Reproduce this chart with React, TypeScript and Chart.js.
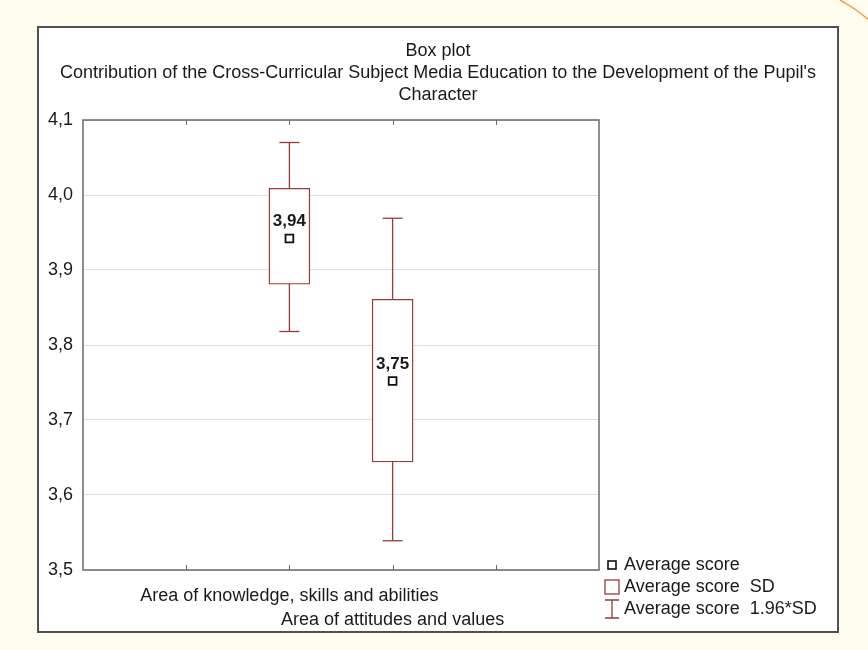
import React, { useEffect, useRef } from "react";
import { Chart, registerables } from "chart.js";

Chart.register(...registerables);

// ---- data ----
const titleLines = [
  "Box plot",
  "Contribution of the Cross-Curricular Subject Media Education to the Development of the Pupil's",
  "Character",
];
const categories = ["Area of knowledge, skills and abilities", "Area of attitudes and values"];
const categoryPositions = [2, 3];
const means = [3.942, 3.752];
const sdLow = [3.881, 3.644];
const sdHigh = [4.009, 3.861];
const ciLow = [3.818, 3.539];
const ciHigh = [4.07, 3.969];
const legendLabels = ["Average score", "Average score  SD", "Average score  1.96*SD"];
const yMin = 3.5;
const yMax = 4.1;
const yStep = 0.1;
const xMin = 0;
const xMax = 5;

const FONT = "'Liberation Sans', Arial, sans-serif";
const FS = 18;
const RED = "#983a3a";
const fmt = (v: number, d: number) => v.toFixed(d).replace(".", ",");

const decorPlugin = {
  id: "decor",
  beforeDraw(chart: any) {
    const { ctx, width, height } = chart;
    ctx.save();
    ctx.fillStyle = "#fffcf0";
    ctx.fillRect(0, 0, width, height);
    // orange corner curve
    ctx.strokeStyle = "#f0a040";
    ctx.lineWidth = 1.5;
    ctx.beginPath();
    ctx.moveTo(840, 0);
    ctx.quadraticCurveTo(855, 8, 869, 20);
    ctx.stroke();
    // white frame
    ctx.fillStyle = "#ffffff";
    ctx.fillRect(38, 27, 800, 605);
    ctx.strokeStyle = "#505050";
    ctx.lineWidth = 2;
    ctx.strokeRect(38, 27, 800, 605);
    ctx.restore();
  },
  afterDraw(chart: any) {
    const { ctx, chartArea } = chart;
    const xs = chart.scales.x;
    ctx.save();
    // plot border
    ctx.strokeStyle = "#6a6a6a";
    ctx.lineWidth = 1.5;
    ctx.strokeRect(chartArea.left, chartArea.top, chartArea.right - chartArea.left, chartArea.bottom - chartArea.top);
    // inward tick marks on top and bottom
    ctx.lineWidth = 1;
    ctx.beginPath();
    xs.ticks.forEach((t: any) => {
      const px = Math.round(xs.getPixelForValue(t.value)) + 0.5;
      if (px <= chartArea.left + 1 || px >= chartArea.right - 1) return;
      ctx.moveTo(px, chartArea.top);
      ctx.lineTo(px, chartArea.top + 5);
      ctx.moveTo(px, chartArea.bottom);
      ctx.lineTo(px, chartArea.bottom - 5);
    });
    ctx.stroke();

    // title
    ctx.fillStyle = "#1a1a1a";
    ctx.font = `${FS}px ${FONT}`;
    ctx.textAlign = "center";
    ctx.textBaseline = "middle";
    const cx = 438;
    titleLines.forEach((line, i) => ctx.fillText(line, cx, 51 + i * 22));

    // mean labels
    const meanMeta = chart.getDatasetMeta(chart.data.datasets.length - 1);
    ctx.font = `bold ${FS - 1}px ${FONT}`;
    meanMeta.data.forEach((pt: any, i: number) => {
      ctx.fillText(fmt(means[i], 2), pt.x, pt.y - 17);
    });

    // legend
    const lx = 612;
    const rows = [565, 587, 609];
    ctx.font = `${FS}px ${FONT}`;
    ctx.textAlign = "left";
    // row 1: mean marker
    ctx.strokeStyle = "#111";
    ctx.lineWidth = 1.6;
    ctx.fillStyle = "#fff";
    ctx.fillRect(lx - 4, rows[0] - 4, 8, 8);
    ctx.strokeRect(lx - 4, rows[0] - 4, 8, 8);
    // row 2: box
    ctx.strokeStyle = RED;
    ctx.lineWidth = 1.3;
    ctx.strokeRect(lx - 7, rows[1] - 7, 14, 14);
    // row 3: whisker
    ctx.beginPath();
    ctx.moveTo(lx - 7, rows[2] - 9);
    ctx.lineTo(lx + 7, rows[2] - 9);
    ctx.moveTo(lx, rows[2] - 9);
    ctx.lineTo(lx, rows[2] + 9);
    ctx.moveTo(lx - 7, rows[2] + 9);
    ctx.lineTo(lx + 7, rows[2] + 9);
    ctx.stroke();
    ctx.fillStyle = "#1a1a1a";
    legendLabels.forEach((t, i) => ctx.fillText(t, 624, rows[i]));
    ctx.restore();
  },
};

export default function App() {
  const ref = useRef<HTMLCanvasElement>(null);
  useEffect(() => {
    if (!ref.current) return;
    const whiskerSets = categories.map((c, i) => ({
      type: "scatter" as const,
      label: c + " 1.96*SD",
      data: [
        { x: categoryPositions[i], y: ciLow[i] },
        { x: categoryPositions[i], y: ciHigh[i] },
      ],
      showLine: true,
      borderColor: RED,
      borderWidth: 1.3,
      pointStyle: "line" as const,
      pointRadius: 10,
      pointHoverRadius: 10,
      pointBorderColor: RED,
      pointBorderWidth: 1.3,
      order: 3,
    }));
    const chart = new Chart(ref.current, {
      type: "bar",
      data: {
        datasets: [
          ...whiskerSets,
          {
            type: "bar",
            label: "Average score SD",
            data: categories.map((_, i) => ({ x: categoryPositions[i], y: [sdLow[i], sdHigh[i]] })) as any,
            backgroundColor: "#ffffff",
            borderColor: RED,
            borderWidth: 1.4,
            borderSkipped: false,
            barThickness: 41,
            grouped: false,
            order: 2,
          } as any,
          {
            type: "scatter",
            label: "Average score",
            data: categories.map((_, i) => ({ x: categoryPositions[i], y: means[i] })),
            pointStyle: "rect",
            pointRadius: 5.5,
            pointHoverRadius: 5.5,
            backgroundColor: "#ffffff",
            borderColor: "#111111",
            borderWidth: 1.8,
            order: 1,
          },
        ],
      },
      options: {
        responsive: false,
        animation: false,
        events: [],
        layout: { padding: { left: 38, right: 269, top: 120, bottom: 0 } },
        plugins: { legend: { display: false }, title: { display: false }, tooltip: { enabled: false } },
        scales: {
          x: {
            type: "linear",
            min: xMin,
            max: xMax,
            offset: false,
            grid: { display: false },
            border: { display: false },
            afterFit: (s: any) => {
              s.height = 80;
            },
            ticks: {
              stepSize: 1,
              autoSkip: false,
              maxRotation: 0,
              minRotation: 0,
              padding: 7,
              color: "#1a1a1a",
              font: { family: FONT, size: FS, lineHeight: 1.28 },
              callback: (v: any) => {
                const idx = categoryPositions.indexOf(Number(v));
                if (idx < 0) return "";
                return idx === 0 ? categories[idx] : ["", categories[idx]];
              },
            },
          },
          y: {
            type: "linear",
            min: yMin,
            max: yMax,
            grid: { color: "#dedede", lineWidth: 1, drawTicks: false },
            border: { display: false },
            afterFit: (s: any) => {
              s.width = 45;
            },
            ticks: {
              stepSize: yStep,
              padding: 10,
              color: "#1a1a1a",
              font: { family: FONT, size: FS },
              callback: (v: any) => fmt(Number(v), 1),
            },
          },
        },
      } as any,
      plugins: [decorPlugin],
    });
    return () => chart.destroy();
  }, []);
  return (
    <div style={{ position: "absolute", left: 0, top: 0, width: 868, height: 650 }}>
      <canvas ref={ref} width={868} height={650} />
    </div>
  );
}
